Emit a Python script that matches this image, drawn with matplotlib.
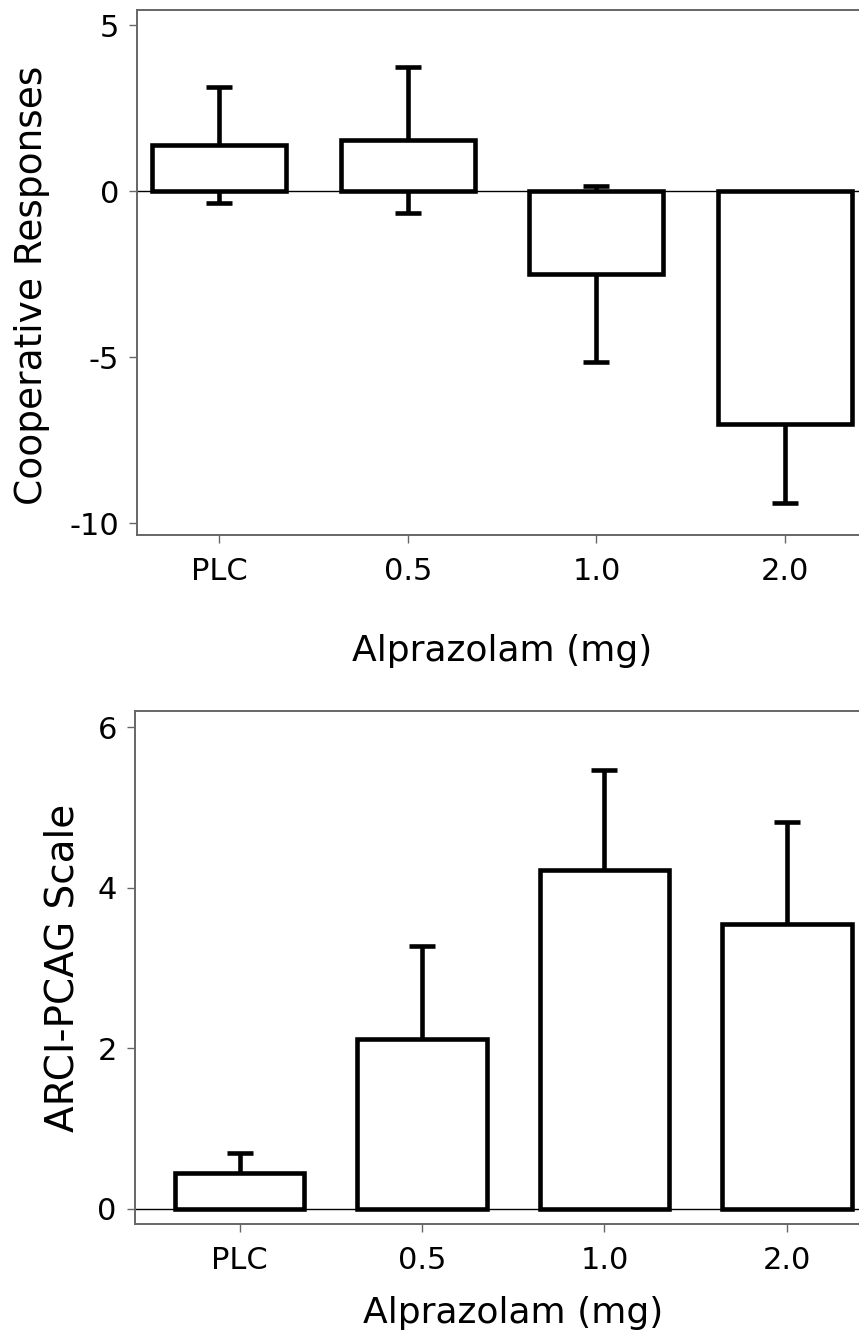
import numpy as np
import matplotlib
matplotlib.use("Agg")
import matplotlib.pyplot as plt

plt.rcParams['font.family'] = ['DejaVu Sans']

doses = ["PLC", "0.5", "1.0", "2.0"]

coop_mean = [1.4, 1.55, -2.5, -7.0]
coop_se = [1.75, 2.2, 2.65, 2.4]

pcag_mean = [0.45, 2.12, 4.22, 3.55]
pcag_se = [0.25, 1.15, 1.25, 1.27]

spine_col = "#666666"


def panel(ax, means, se, yticks, ylim, xlim, ylabel, ylabel_size):
    x = np.arange(len(doses))
    ax.axhline(0, color="black", lw=1.0, zorder=1)
    ax.errorbar(x, means, yerr=se, fmt="none", ecolor="black",
                elinewidth=3.3, capsize=9.5, capthick=3.3, zorder=2)
    ax.bar(x, means, width=0.71, color="white", edgecolor="black",
           linewidth=3.3, zorder=3)
    ax.set_xlim(*xlim)
    ax.set_ylim(*ylim)
    ax.set_xticks(x)
    ax.set_xticklabels(doses)
    ax.set_yticks(yticks)
    ax.set_yticklabels([str(t) for t in yticks])
    ax.tick_params(axis="both", direction="out", length=6, width=1.0,
                   color=spine_col, labelsize=22)
    ax.tick_params(axis="x", pad=10)
    ax.tick_params(axis="y", pad=7)
    for s in ax.spines.values():
        s.set_color(spine_col)
        s.set_linewidth(1.4)
    ax.spines["right"].set_visible(False)
    ax.set_ylabel(ylabel, fontsize=ylabel_size)


fig = plt.figure(figsize=(8.59, 13.39), dpi=100)

ax1 = fig.add_axes([0.1595, 0.6004, 0.85, 0.392])
panel(ax1, coop_mean, coop_se, [5, 0, -5, -10], (-10.36, 5.45),
      (-0.435, 3.435), "Cooperative Responses", 27)
ax1.set_xlabel("Alprazolam (mg)", fontsize=26, labelpad=34)
ax1.yaxis.set_label_coords(-0.119, 0.475)

ax2 = fig.add_axes([0.157, 0.0859, 0.881, 0.383])
panel(ax2, pcag_mean, pcag_se, [0, 2, 4, 6], (-0.19, 6.2),
      (-0.575, 3.575), "ARCI-PCAG Scale", 28)
ax2.set_xlabel("Alprazolam (mg)", fontsize=26, labelpad=15)
ax2.yaxis.set_label_coords(-0.071, 0.5)

fig.savefig("out.png", dpi=100)
